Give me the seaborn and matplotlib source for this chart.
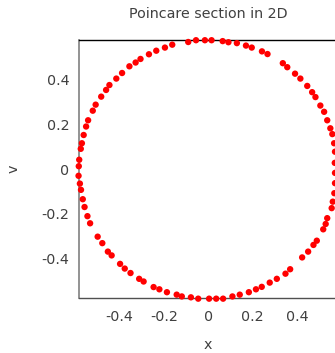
import matplotlib
matplotlib.use("Agg")
import matplotlib.pyplot as plt
import seaborn as sns
import pandas as pd

x_vals = [0.015, -0.015, -0.055, -0.090, -0.162, -0.195, -0.234, -0.267, -0.305, -0.327,
          -0.355, -0.388, -0.414, -0.445, -0.460, -0.482, -0.507, -0.520, -0.541, -0.550,
          -0.561, -0.569, -0.574, -0.581, -0.583, -0.584, -0.578, -0.573, -0.565, -0.557,
          -0.544, -0.532, -0.498, -0.477, -0.452, -0.435, -0.397, -0.376, -0.350, -0.311,
          -0.291, -0.246, -0.220, -0.186, -0.142, -0.119, -0.078, -0.045, 0.004, 0.036,
          0.067, 0.109, 0.142, 0.183, 0.215, 0.241, 0.277, 0.309, 0.348, 0.369,
          0.423, 0.450, 0.474, 0.489, 0.518, 0.529, 0.536, 0.556, 0.561, 0.568,
          0.571, 0.571, 0.570, 0.571, 0.567, 0.559, 0.550, 0.536, 0.522, 0.505,
          0.483, 0.468, 0.446, 0.415, 0.391, 0.356, 0.336, 0.267, 0.242, 0.196,
          0.170, 0.129, 0.091, 0.065]
v_vals = [0.578, 0.578, 0.578, 0.570, 0.558, 0.545, 0.531, 0.515, 0.494, 0.478,
          0.461, 0.431, 0.406, 0.377, 0.355, 0.325, 0.289, 0.262, 0.219, 0.191,
          0.153, 0.116, 0.091, 0.042, 0.013, -0.030, -0.065, -0.093, -0.135, -0.170,
          -0.211, -0.243, -0.303, -0.332, -0.370, -0.387, -0.425, -0.446, -0.466, -0.492,
          -0.504, -0.529, -0.539, -0.552, -0.563, -0.571, -0.575, -0.581, -0.581, -0.581,
          -0.581, -0.571, -0.563, -0.552, -0.539, -0.528, -0.509, -0.492, -0.469, -0.449,
          -0.396, -0.370, -0.340, -0.321, -0.270, -0.246, -0.220, -0.175, -0.146, -0.108,
          -0.063, -0.017, 0.028, 0.078, 0.116, 0.157, 0.183, 0.219, 0.257, 0.285,
          0.323, 0.345, 0.373, 0.406, 0.428, 0.457, 0.475, 0.516, 0.528, 0.545,
          0.554, 0.565, 0.569, 0.574]

x_ticks = [-0.4, -0.2, 0, 0.2, 0.4]
x_tick_labels = ["-0.4", "-0.2", "0", "0.2", "0.4"]
y_ticks = [-0.4, -0.2, 0, 0.2, 0.4]
y_tick_labels = ["-0.4", "-0.2", "0", "0.2", "0.4"]

title = "Poincare section in 2D"
xlabel = "x"
ylabel = "v"

sns.set_style("white")
plt.rcParams["font.family"] = ["DejaVu Sans"]

text_color = "#404040"
fs = 10.3

df = pd.DataFrame({"x": x_vals, "v": v_vals})

fig = plt.figure(figsize=(3.35, 3.53), dpi=100)
ax = fig.add_axes([79 / 335, 1 - 298 / 353, 258 / 335, 258 / 353])

sns.scatterplot(data=df, x="x", y="v", ax=ax, color="#ff0000", s=21,
                edgecolor="none", linewidth=0, clip_on=False, zorder=5)

ax.set_xlim(-0.582, 0.58)
ax.set_ylim(-0.578, 0.579)

ax.set_xticks(x_ticks)
ax.set_xticklabels(x_tick_labels)
ax.set_yticks(y_ticks)
ax.set_yticklabels(y_tick_labels)

ax.tick_params(axis="both", direction="in", length=5, width=0.8, color="#333333",
               labelsize=fs, labelcolor=text_color)
ax.tick_params(axis="y", pad=7)
ax.tick_params(axis="x", pad=8.5)

for side in ["left", "bottom", "top", "right"]:
    ax.spines[side].set_visible(True)
ax.spines["left"].set_color("#808080")
ax.spines["left"].set_linewidth(1.2)
ax.spines["bottom"].set_color("#505050")
ax.spines["bottom"].set_linewidth(1.0)
ax.spines["top"].set_color("#000000")
ax.spines["top"].set_linewidth(1.0)
ax.spines["right"].set_visible(False)

ax.set_title(title, fontsize=fs, color=text_color, pad=16)
ax.set_xlabel(xlabel, fontsize=fs, color=text_color, labelpad=10)
ax.set_ylabel(ylabel, fontsize=fs, color=text_color, labelpad=15)

fig.savefig("out.png", dpi=100)
